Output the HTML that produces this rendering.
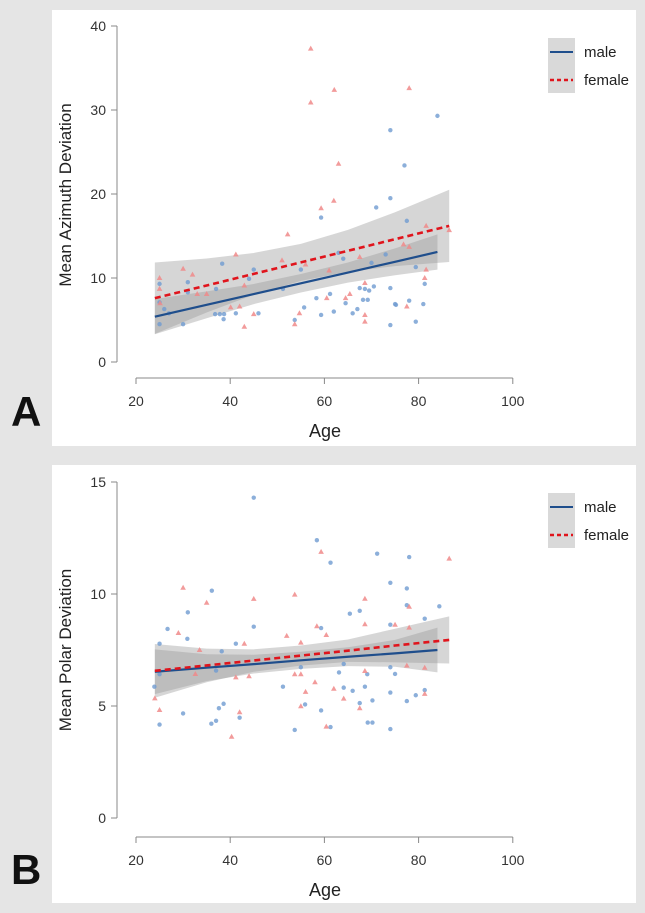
<!DOCTYPE html>
<html><head><meta charset="utf-8">
<style>
html,body{margin:0;padding:0;background:#e5e5e5;}
body{width:645px;height:913px;position:relative;overflow:hidden;font-family:"Liberation Sans",Arial,sans-serif;}
.panel{position:absolute;background:#fff;}
.letter{position:absolute;font-weight:bold;font-size:42px;color:#111;font-family:"Liberation Sans",Arial,sans-serif;}
svg{position:absolute;left:0;top:0;}
</style></head>
<body>
<div class="panel" style="left:52px;top:10px;width:584px;height:436px"></div>
<div class="panel" style="left:52px;top:465px;width:584px;height:438px"></div>
<div class="letter" style="left:11px;top:388px">A</div>
<div class="letter" style="left:11px;top:846px">B</div>
<svg id="chart" width="645" height="913"></svg>
<script>
// ---- Panel A data ----
const aMaleAge=[84,74,77,74,71,59.3,77.5,38.3,45,44,31,25,31,25,37,63,64,55,51.2,73,70,79.4,81.3,67.5,68.6,70.5,69.5,58.3,61.2,64.5,68.2,69.2,74,75,75.2,78,81,55.7,62,59.3,66,67,53.7,74,79.4,36.8,37.8,38.7,38.6,41.2,46,30,25,26,27];
const aMaleVal=[29.3,27.6,23.4,19.5,18.4,17.2,16.8,11.7,11.0,9.9,9.5,9.3,8.3,7.1,8.7,13.0,12.3,11.0,8.7,12.8,11.8,11.3,9.3,8.8,8.7,9.0,8.5,7.6,8.1,7.0,7.4,7.4,8.8,6.9,6.8,7.3,6.9,6.5,6.0,5.6,5.8,6.3,5.0,4.4,4.8,5.7,5.7,5.7,5.1,5.8,5.8,4.5,4.5,6.3,5.8];
const aFemAge=[57.1,62.1,57.1,78,63,62,59.3,52.2,41.2,81.6,86.5,30,32,25,51,56,76.8,78,81.6,81.3,67.5,68.6,60.5,65.4,64.5,35,33,43,45,54.7,53.7,43,40.1,42,68.6,68.6,77.5,25,25.1,61];
const aFemVal=[37.3,32.4,30.9,32.6,23.6,19.2,18.3,15.2,12.8,16.2,15.7,11.1,10.4,10.0,12.1,11.6,14.0,13.7,11.0,10.0,12.5,9.4,7.6,8.1,7.6,8.1,8.1,9.1,5.7,5.8,4.5,4.2,6.5,6.6,5.6,4.8,6.6,8.7,7.0,10.9];
const aMaleFitAge=[24,35,45,55,65,75,84];
const aMaleFit=[5.4,6.81,8.09,9.37,10.65,11.93,13.1];
const aMaleHalf=[2.1,1.6,1.2,1.1,1.2,1.6,2.1];
const aFemFitAge=[24,35,45,55,65,75,86.5];
const aFemFit=[7.6,9.11,10.49,11.86,13.24,14.62,16.2];
const aFemHalf=[4.25,3.21,2.49,2.2,2.49,3.21,4.3];
const aYTicks=[0,10,20,30,40];
// ---- Panel B data ----
const bMaleAge=[45,58.4,61.3,71.2,78,36.1,31,77.5,77.5,84.4,81.3,74,65.4,67.5,45,59.3,74,26.7,30.9,25,41.2,38.2,25,23.9,37,63.1,64.1,69.1,74,75,68.6,64.1,66,51.2,81.3,74,79.4,77.5,70.2,67.5,55.9,38.6,37.6,30,42,37,36,25,53.7,61.3,69.2,70.2,74,59.3,55];
const bMaleVal=[14.3,12.4,11.4,11.8,11.65,10.15,9.18,10.25,9.5,9.45,8.9,10.5,9.12,9.25,8.54,8.48,8.63,8.44,8.0,7.78,7.78,7.44,6.42,5.86,6.58,6.5,6.88,6.42,6.73,6.43,5.86,5.82,5.68,5.86,5.71,5.6,5.48,5.22,5.25,5.13,5.07,5.1,4.9,4.67,4.48,4.34,4.21,4.17,3.93,4.06,4.26,4.26,3.97,4.8,6.73];
const bFemAge=[30,35,45,53.7,59.3,86.5,68.6,78,29,58.4,60.4,52,43,55,75,78,68.6,33.5,32.6,41.2,44,53.7,55,58,56,62,64.1,68.6,77.5,81.3,81.3,67.5,55,42,24,25,40.3,60.4];
const bFemVal=[10.28,9.61,9.78,9.97,11.88,11.58,9.79,9.43,8.26,8.56,8.17,8.13,7.78,7.83,8.63,8.5,8.65,7.5,6.43,6.28,6.33,6.42,6.42,6.06,5.63,5.77,5.33,6.56,6.8,6.71,5.54,4.9,4.99,4.72,5.34,4.82,3.63,4.08];
const bMaleFitAge=[24,35,45,55,65,75,84];
const bMaleFit=[6.53,6.71,6.87,7.04,7.2,7.35,7.5];
const bMaleHalf=[1.0,0.6,0.42,0.38,0.42,0.6,1.0];
const bFemFitAge=[24,35,45,55,65,75,86.5];
const bFemFit=[6.57,6.81,7.03,7.25,7.47,7.7,7.95];
const bFemHalf=[1.2,0.75,0.5,0.45,0.5,0.75,1.05];
const bYTicks=[0,5,10,15];
const xTicks=[20,40,60,80,100];

const NS="http://www.w3.org/2000/svg";
const svg=document.getElementById('chart');
function mk(tag,attrs,parent){const e=document.createElementNS(NS,tag);for(const k in attrs)e.setAttribute(k,attrs[k]);(parent||svg).appendChild(e);return e;}
const xScale=a=>136+(a-20)*4.71;

function drawPanel(cfg){
  const g=mk('g',{});
  
  
  const yS=v=>cfg.y0-v*cfg.py;
  const ya=mk('g',{},g);
  
  
  const ymax=cfg.yTicks[cfg.yTicks.length-1];
  mk('line',{x1:117,x2:117,y1:yS(0),y2:yS(ymax),stroke:'#888','stroke-width':1},ya);
  cfg.yTicks.forEach(t=>{
    mk('line',{x1:111,x2:117,y1:yS(t),y2:yS(t),stroke:'#888'},ya);
    const tx=mk('text',{x:106,y:yS(t)+5,'text-anchor':'end','font-size':14,fill:'#333'},ya);
    tx.textContent=t;
    
    
  });
  const yl=mk('text',{x:0,y:0,transform:`translate(71,${cfg.ylabY}) rotate(-90)`,'text-anchor':'middle','font-size':17,fill:'#222'},g);
  yl.textContent=cfg.ylabel;
  
  
  const xa=mk('g',{},g);
  
  
  mk('line',{x1:xScale(20),x2:xScale(100),y1:cfg.xAxisY,y2:cfg.xAxisY,stroke:'#888'},xa);
  xTicks.forEach(t=>{
    mk('line',{x1:xScale(t),x2:xScale(t),y1:cfg.xAxisY,y2:cfg.xAxisY+6,stroke:'#888'},xa);
    const tx=mk('text',{x:xScale(t),y:cfg.xAxisY+28,'text-anchor':'middle','font-size':14,fill:'#333'},xa);
    tx.textContent=t;
    
    
  });
  const xl=mk('text',{x:325,y:cfg.xAxisY+59,'text-anchor':'middle','font-size':18,fill:'#222'},g);
  xl.textContent='Age';
  
  
  function band(ages,fit,half,name){
    let pts=ages.map((a,i)=>xScale(a)+','+yS(fit[i]+half[i]));
    pts=pts.concat(ages.slice().reverse().map((a,j)=>{const i=ages.length-1-j;return xScale(a)+','+yS(fit[i]-half[i]);}));
    const p=mk('polygon',{points:pts.join(' '),fill:'#999','fill-opacity':0.4},g);
    
    
  }
  band(cfg.fFitAge,cfg.fFit,cfg.fHalf,cfg.id+'-female-ci-band');
  band(cfg.mFitAge,cfg.mFit,cfg.mHalf,cfg.id+'-male-ci-band');
  cfg.mAge.forEach((a,i)=>{
    const c=mk('circle',{cx:xScale(a),cy:yS(cfg.mVal[i]),r:2.2,fill:'#6f9bd1','fill-opacity':0.8},g);
    
    
  });
  cfg.fAge.forEach((a,i)=>{
    const x=xScale(a),y=yS(cfg.fVal[i]);
    const t=mk('polygon',{points:`${x},${y-3} ${x-2.8},${y+2} ${x+2.8},${y+2}`,fill:'#f08a8a','fill-opacity':0.85},g);
    
    
  });
  const ml=mk('polyline',{points:cfg.mFitAge.map((a,i)=>xScale(a)+','+yS(cfg.mFit[i])).join(' '),fill:'none',stroke:'#1f4e8c','stroke-width':2.2},g);
  
  
  const fl=mk('polyline',{points:cfg.fFitAge.map((a,i)=>xScale(a)+','+yS(cfg.fFit[i])).join(' '),fill:'none',stroke:'#e0141c','stroke-width':2.6,'stroke-dasharray':'6,4'},g);
  
  
  const lg=mk('g',{},g);
  
  
  const L=cfg.legY;
  mk('rect',{x:548,y:L,width:27,height:55,fill:'#d9d9d9'},lg);
  mk('line',{x1:550,x2:573,y1:L+14,y2:L+14,stroke:'#1f4e8c','stroke-width':2},lg);
  mk('line',{x1:550,x2:573,y1:L+42,y2:L+42,stroke:'#e0141c','stroke-width':2.4,'stroke-dasharray':'4,3'},lg);
  const t1=mk('text',{x:584,y:L+19,'font-size':15,fill:'#222'},lg);t1.textContent='male';
  
  
  const t2=mk('text',{x:584,y:L+47,'font-size':15,fill:'#222'},lg);t2.textContent='female';
  
  
}

drawPanel({id:'panel-a',y0:362,py:8.4,yTicks:aYTicks,xAxisY:378,ylabel:'Mean Azimuth Deviation',ylabY:195,legY:38,
  mAge:aMaleAge,mVal:aMaleVal,fAge:aFemAge,fVal:aFemVal,
  mFitAge:aMaleFitAge,mFit:aMaleFit,mHalf:aMaleHalf,fFitAge:aFemFitAge,fFit:aFemFit,fHalf:aFemHalf});
drawPanel({id:'panel-b',y0:818,py:22.4,yTicks:bYTicks,xAxisY:837,ylabel:'Mean Polar Deviation',ylabY:650,legY:493,
  mAge:bMaleAge,mVal:bMaleVal,fAge:bFemAge,fVal:bFemVal,
  mFitAge:bMaleFitAge,mFit:bMaleFit,mHalf:bMaleHalf,fFitAge:bFemFitAge,fFit:bFemFit,fHalf:bFemHalf});
</script>
</body></html>
